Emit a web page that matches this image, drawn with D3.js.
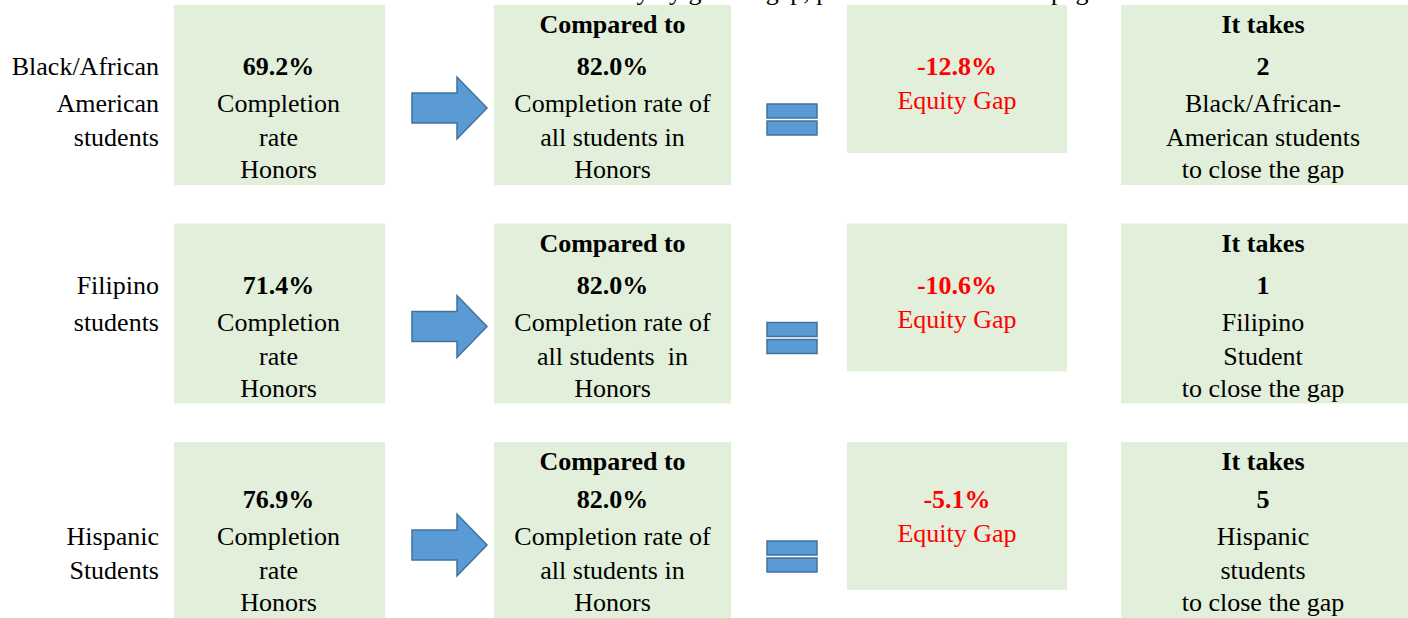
<!DOCTYPE html>
<html>
<head>
<meta charset="utf-8">
<script src="https://cdn.jsdelivr.net/npm/d3@7"></script>
<style>
  html, body { margin: 0; padding: 0; background: #fff; }
  svg { display: block; font-family: 'Liberation Serif', 'Times New Roman', serif; }
</style>
</head>
<body>
<svg id="chart" width="1408" height="618"></svg>
<script>
'use strict'

// data
const groups = ['Black/African American', 'Filipino', 'Hispanic']
const groupLabelLines = [['Black/African', 'American', 'students'], ['Filipino', 'students'], ['Hispanic', 'Students']]
const groupLabelStart = [1, 1, 2]
const groupRates = [69.2, 71.4, 76.9]
const overallRates = [82.0, 82.0, 82.0]
const equityGaps = [-12.8, -10.6, -5.1]
const studentsNeeded = [2, 1, 5]
const neededLines = [['Black/African-', 'American students', 'to close the gap'], ['Filipino', 'Student', 'to close the gap'], ['Hispanic', 'students', 'to close the gap']]
const rateLines = ['Completion', 'rate', 'Honors']
const overallLines = [['Completion rate of', 'all students in', 'Honors'], ['Completion rate of', 'all students  in', 'Honors'], ['Completion rate of', 'all students in', 'Honors']]
const headerText = 'Identify by gender gap, please refer to the last page'

const WIDTH = 1408
const HEIGHT = 618
const BOX_FILL = '#e2efda'
const SHAPE_FILL = '#5b9bd5'
const SHAPE_STROKE = '#41719c'
const FONT = 26
const LINE_Y = [28, 70, 107, 141, 173]
const ROW_H = 180

const svg = d3.select('#chart')

// rows
const y = d3.scaleBand().domain(groups).range([5, 5 + 3 * 218.5]).paddingInner(0)
// columns
const x = d3.scaleOrdinal()
  .domain(['label', 'rate', 'arrow', 'overall', 'equals', 'gap', 'needed'])
  .range([159, 174, 412, 494, 767, 847, 1121])
const boxW = { rate: 211, overall: 237, gap: 220, needed: 287 }
const boxH = { rate: ROW_H, overall: ROW_H, gap: 148, needed: ROW_H }

// hyphen rather than unicode minus, as in the original
const fmt = (v) => d3.format('.1f')(v).replace('\u2212', '-')

// the last row is squeezed a little by the page edge
const lineShift = (g) => Math.min(0, (HEIGHT - y(g)) - ROW_H)
const lineY = (d, line) => LINE_Y[line] + (line > 0 ? lineShift(d.g) : 0)

// clipped header line from the page above
svg.append('text')
  .attr('x', 1100).attr('y', 0)
  .attr('text-anchor', 'end')
  .attr('font-size', FONT)
  .text(headerText)

const rows = svg.selectAll('g.row')
  .data(groups.map((g, i) => ({ g, i })))
  .enter().append('g')
  .attr('class', 'row')
  .attr('transform', (d) => `translate(0, ${y(d.g)})`)

// green boxes
;['rate', 'overall', 'gap', 'needed'].forEach((k) => {
  rows.append('rect')
    .attr('x', x(k)).attr('y', 0)
    .attr('width', boxW[k]).attr('height', boxH[k])
    .attr('fill', BOX_FILL)
})

const addLines = (sel, cx, lines) => {
  // lines: function(d) -> [{ t, line, bold, color }]
  sel.each(function (d) {
    d3.select(this).selectAll(null)
      .data(lines(d))
      .enter().append('text')
      .attr('x', cx)
      .attr('y', (l) => lineY(d, l.line) + (l.dy || 0))
      .attr('text-anchor', cx === x('label') ? 'end' : 'middle')
      .attr('font-size', FONT)
      .attr('font-weight', (l) => l.bold ? 'bold' : 'normal')
      .attr('fill', (l) => l.color || '#000')
      .style('white-space', 'pre')
      .text((l) => l.t)
  })
}

// row labels
addLines(rows, x('label'), (d) => groupLabelLines[d.i].map((t, j) => ({ t, line: groupLabelStart[d.i] + j })))

// group completion rate
addLines(rows, x('rate') + boxW.rate / 2 - 1, (d) => [{ t: fmt(groupRates[d.i]) + '%', line: 1, bold: true }]
  .concat(rateLines.map((t, j) => ({ t, line: 2 + j }))))

// overall completion rate
addLines(rows, x('overall') + boxW.overall / 2, (d) => [
  { t: 'Compared to', line: 0, bold: true },
  { t: fmt(overallRates[d.i]) + '%', line: 1, bold: true }
].concat(overallLines[d.i].map((t, j) => ({ t, line: 2 + j }))))

// equity gap
addLines(rows, x('gap') + boxW.gap / 2, (d) => [
  { t: fmt(equityGaps[d.i]) + '%', line: 1, bold: true, color: '#ff0000' },
  { t: 'Equity Gap', line: 2, dy: -3, color: '#ff0000' }
])

// students needed
addLines(rows, x('needed') + 142, (d) => [
  { t: 'It takes', line: 0, bold: true },
  { t: String(studentsNeeded[d.i]), line: 1, bold: true }
].concat(neededLines[d.i].map((t, j) => ({ t, line: 2 + j }))))

// arrows
const arrowPath = (x0) => {
  const p = d3.path()
  p.moveTo(x0, -15); p.lineTo(x0 + 45, -15); p.lineTo(x0 + 45, -31)
  p.lineTo(x0 + 75, 0); p.lineTo(x0 + 45, 31); p.lineTo(x0 + 45, 15)
  p.lineTo(x0, 15); p.closePath()
  return p.toString()
}
rows.append('path')
  .attr('d', arrowPath(x('arrow')))
  .attr('transform', 'translate(0, 103)')
  .attr('fill', SHAPE_FILL)
  .attr('stroke', SHAPE_STROKE)
  .attr('stroke-width', 1.5)

// equals signs
;[0, 17].forEach((dy) => {
  rows.append('rect')
    .attr('x', x('equals')).attr('y', 99 + dy)
    .attr('width', 50).attr('height', 14)
    .attr('fill', SHAPE_FILL)
    .attr('stroke', SHAPE_STROKE)
    .attr('stroke-width', 1.5)
})
</script>
</body>
</html>
